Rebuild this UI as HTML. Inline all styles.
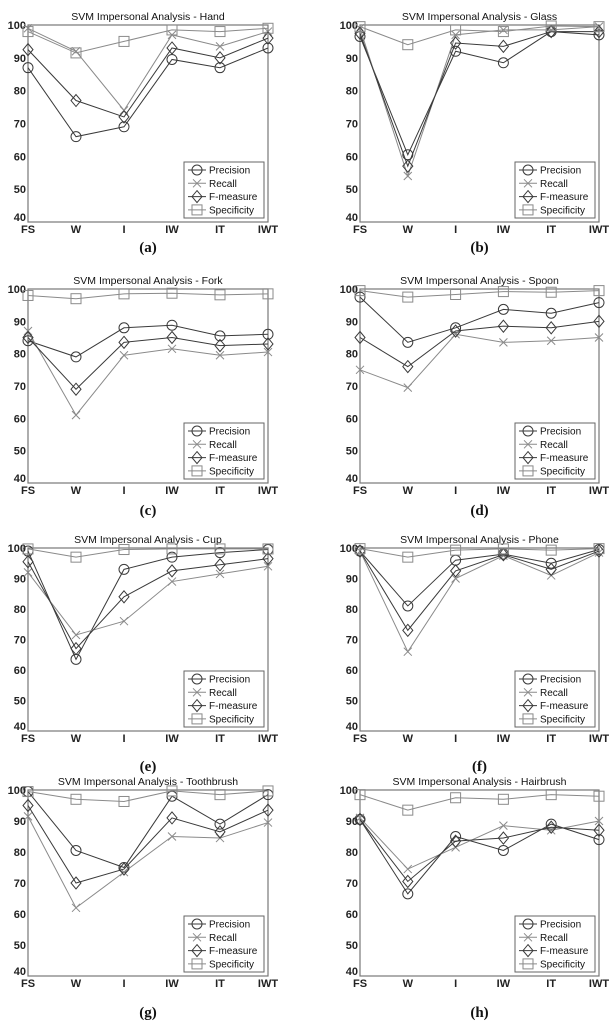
<!DOCTYPE html>
<html><head><meta charset="utf-8"><style>
html,body{margin:0;padding:0;background:#fff;}
svg{display:block;}
</style></head><body>
<svg id="fig" width="615" height="1024" viewBox="0 0 615 1024" xmlns="http://www.w3.org/2000/svg"></svg>
<script>
const categories = ["FS","W","I","IW","IT","IWT"];
const yTicks = [40,50,60,70,80,90,100];
const seriesNames = ["Precision","Recall","F-measure","Specificity"];
const panelTitles = ["Hand","Glass","Fork","Spoon","Cup","Phone","Toothbrush","Hairbrush"];
const captions = ["(a)","(b)","(c)","(d)","(e)","(f)","(g)","(h)"];
const handPrecision=[87,66,69,89.5,87,93];
const handRecall=[99,92,74,97,93.5,98];
const handF=[92.5,77,72,93,90,96];
const handSpec=[98,91.5,95,98.5,98,99];
const glassPrecision=[96.5,60.5,92,88.5,98,97];
const glassRecall=[99,54,97,98.5,98.5,99.5];
const glassF=[97.5,57,94.5,93.5,98,98];
const glassSpec=[99.5,94,98.5,98,99.7,99.5];
const forkPrecision=[84,79,88,88.8,85.5,86];
const forkRecall=[87,61,79.5,81.5,79.5,80.5];
const forkF=[85,69,83.5,85,82.5,83];
const forkSpec=[98,97,98.5,98.7,98.2,98.5];
const spoonPrecision=[97.5,83.5,88,93.7,92.5,95.8];
const spoonRecall=[75,69.5,86,83.5,84,85];
const spoonF=[85,76,87,88.5,88,90];
const spoonSpec=[99.5,97.5,98.3,99.2,99,99.5];
const cupPrecision=[99,63.5,93,97,98.5,99.5];
const cupRecall=[92,71.5,76,89,91.5,94];
const cupF=[95.5,67,84,92.5,94.5,96.5];
const cupSpec=[99.7,97,99.5,99.7,99.7,99.7];
const phonePrecision=[99,81,96,98,95,99.5];
const phoneRecall=[99,66,90,97.5,91,98.5];
const phoneF=[99,73,92.5,97.8,93,99];
const phoneSpec=[99.8,97,99.3,99.7,99.3,99.8];
const toothPrecision=[99.5,80.5,75,98,89,98.5];
const toothRecall=[91.5,62,73.5,85,84.5,89.5];
const toothF=[95,70,74.5,91,86.5,93.5];
const toothSpec=[99.5,97,96.3,99.7,98.5,99.7];
const hairPrecision=[90.5,66.5,85,80.5,89,84];
const hairRecall=[91,74.5,81.5,88.5,87,90];
const hairF=[90.5,70.5,83.5,84.5,88,87];
const hairSpec=[98.5,93.5,97.5,97,98.5,98];
const panelData=[
 [handPrecision,handRecall,handF,handSpec],
 [glassPrecision,glassRecall,glassF,glassSpec],
 [forkPrecision,forkRecall,forkF,forkSpec],
 [spoonPrecision,spoonRecall,spoonF,spoonSpec],
 [cupPrecision,cupRecall,cupF,cupSpec],
 [phonePrecision,phoneRecall,phoneF,phoneSpec],
 [toothPrecision,toothRecall,toothF,toothSpec],
 [hairPrecision,hairRecall,hairF,hairSpec]];

const NS="http://www.w3.org/2000/svg";
const svg=document.getElementById('fig');
const colX=[[28,268],[360,599]];
const rowY=[[25,222],[289,483],[548,731],[790,976]];
const capY=[252,515,771,1017];
const colors=["#3a3a3a","#8a8a8a","#3a3a3a","#8a8a8a"];
function el(tag,attrs,parent){const e=document.createElementNS(NS,tag);for(const k in attrs)e.setAttribute(k,attrs[k]);(parent||svg).appendChild(e);return e;}
function marker(g,k,x,y,c){
 if(k===0){el('circle',{cx:x,cy:y,r:5,fill:'none',stroke:c,'stroke-width':1},g);}
 else if(k===1){el('path',{d:`M${x-4},${y-4}L${x+4},${y+4}M${x-4},${y+4}L${x+4},${y-4}`,stroke:c,'stroke-width':1,fill:'none'},g);}
 else if(k===2){el('path',{d:`M${x},${y-6}L${x+5},${y}L${x},${y+6}L${x-5},${y}Z`,stroke:c,'stroke-width':1,fill:'none'},g);}
 else {el('rect',{x:x-5,y:y-5,width:10,height:10,stroke:c,'stroke-width':1,fill:'none'},g);}
}
for(let p=0;p<8;p++){
 const col=p%2,row=Math.floor(p/2);
 const [x0,x1]=colX[col],[y0,y1]=rowY[row];
 const xs=i=>x0+(x1-x0)*i/(categories.length-1);
 const ys=v=>y1-(v-40)/60*(y1-y0);
 const g=el('g',{});
 
 
 const t=el('text',{x:(x0+x1)/2,y:y0-5,'text-anchor':'middle','font-family':'Liberation Sans, sans-serif','font-size':10.5,fill:'#111'},g);
 t.textContent='SVM Impersonal Analysis - '+panelTitles[p];
 
 
 el('rect',{x:x0,y:y0,width:x1-x0,height:y1-y0,fill:'none',stroke:'#777','stroke-width':1.2},g);
 yTicks.forEach(v=>{
  const tt=el('text',{x:x0-2,y:ys(v)+(v===40?-1:4),'text-anchor':'end','font-family':'Liberation Sans, sans-serif','font-size':11,'font-weight':'bold',fill:'#222'},g);
  tt.textContent=v;
  
  
 });
 categories.forEach((c,i)=>{
  const tt=el('text',{x:xs(i),y:y1+11,'text-anchor':'middle','font-family':'Liberation Sans, sans-serif','font-size':11,'font-weight':'bold',fill:'#222'},g);
  tt.textContent=c;
  
  
 });
 panelData[p].forEach((vals,k)=>{
  const sg=el('g',{},g);
  
  
  el('polyline',{points:vals.map((v,i)=>xs(i)+','+ys(v)).join(' '),fill:'none',stroke:colors[k],'stroke-width':1},sg);
  vals.forEach((v,i)=>marker(sg,k,xs(i),ys(v),colors[k]));
 });
 const lw=80,lh=56,lx=x1-lw-4,ly=y1-lh-4;
 const lg=el('g',{},g);
 
 
 el('rect',{x:lx,y:ly,width:lw,height:lh,fill:'#fff',stroke:'#666','stroke-width':1},lg);
 seriesNames.forEach((n,k)=>{
  const yy=ly+8+k*13.3;
  el('line',{x1:lx+4,y1:yy,x2:lx+22,y2:yy,stroke:colors[k],'stroke-width':1},lg);
  marker(lg,k,lx+13,yy,colors[k]);
  const lt=el('text',{x:lx+25,y:yy+3.5,'font-family':'Liberation Sans, sans-serif','font-size':10,fill:'#111'},lg);
  lt.textContent=n;
  
  
 });
 const cp=el('text',{x:(x0+x1)/2,y:capY[row],'text-anchor':'middle','font-family':'Liberation Serif, serif','font-size':15,'font-weight':'bold',fill:'#111'});
 cp.textContent=captions[p];
 
 
}
</script>
</body></html>
